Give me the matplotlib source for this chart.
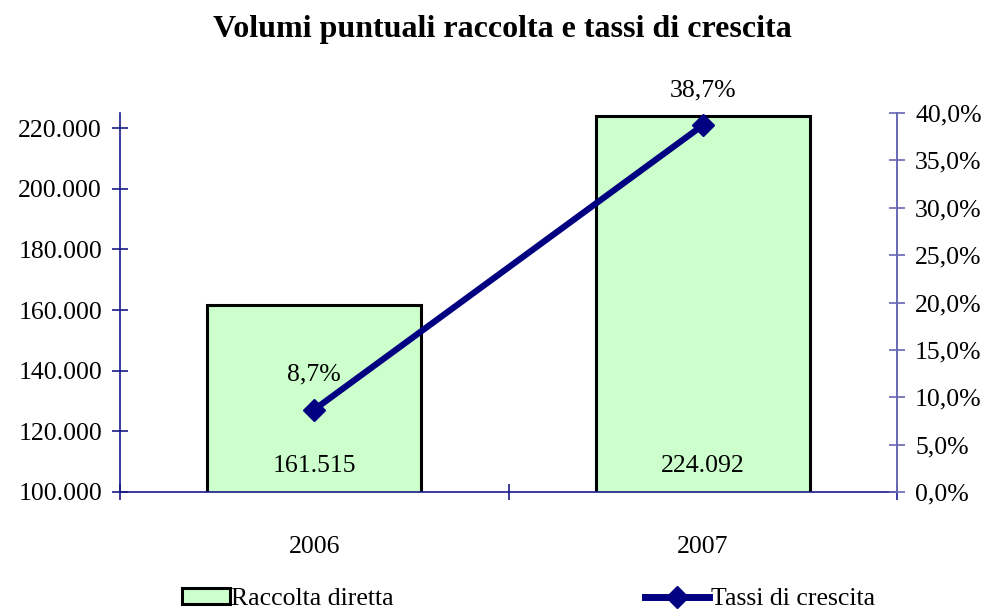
import matplotlib
matplotlib.use("Agg")
import matplotlib.pyplot as plt
from matplotlib.lines import Line2D
from matplotlib.patches import Patch

categories = ["2006", "2007"]
raccolta = [161515, 224092]
tassi = [8.7, 38.7]
left_ticks = [100000, 120000, 140000, 160000, 180000, 200000, 220000]
right_ticks = [0, 5, 10, 15, 20, 25, 30, 35, 40]

plt.rcParams['font.family'] = ['Liberation Serif', 'DejaVu Serif']
W, H = 988, 610
fig = plt.figure(figsize=(W/100, H/100), dpi=100)
ax = fig.add_axes([120/W, 1-492/H, (897-120)/W, (492-113)/H])
axis_col = '#1a1a8a'
right_col = '#6868b4'
FS = 18.5

x = [0, 1]
ax.bar(x, raccolta, width=0.55, color='#CCFFCC', edgecolor='black', linewidth=2.2, zorder=2)
ax.set_ylim(100000, 225000)
ax.set_xlim(-0.5, 1.5)
ax.set_yticks(left_ticks)
ax.set_yticklabels([f"{v:,}".replace(",", ".") for v in left_ticks], fontsize=FS)
ax.set_xticks([-0.5, 0.5, 1.5])
ax.set_xticklabels([])
ax.tick_params(axis='y', direction='inout', length=12, color=axis_col, width=1.2, pad=7)
ax.tick_params(axis='x', direction='inout', length=12, color=axis_col, width=1.2)
for i, c in enumerate(categories):
    ax.text(x[i], -0.145, c, transform=ax.get_xaxis_transform(), ha='center', va='center', fontsize=FS)
for i, v in enumerate(raccolta):
    ax.text(x[i], 108500, f"{v:,}".replace(",", "."), ha='center', va='center', fontsize=FS, zorder=5)
for s in ['top', 'right']:
    ax.spines[s].set_visible(False)
for s in ['left', 'bottom']:
    ax.spines[s].set_color(axis_col)
    ax.spines[s].set_linewidth(1.2)

ax2 = ax.twinx()
ax2.plot(x, tassi, color='#000080', linewidth=4.5, marker='D', markersize=11, zorder=4)
ax2.set_ylim(0, 40)
ax2.set_yticks(right_ticks)
ax2.set_yticklabels([f"{v:.1f}%".replace(".", ",") for v in right_ticks], fontsize=FS)
ax2.tick_params(axis='y', direction='inout', length=12, color=right_col, width=1.2, pad=7)
for s in ['top', 'left', 'bottom']:
    ax2.spines[s].set_visible(False)
ax2.spines['right'].set_color(right_col)
ax2.spines['right'].set_linewidth(1.4)
for i, v in enumerate(tassi):
    ax2.annotate(f"{v:.1f}%".replace(".", ","), (x[i], v), xytext=(0, 25), textcoords='offset points',
                 ha='center', va='center', fontsize=FS)

fig.text(502/W, 1-30/H, "Volumi puntuali raccolta e tassi di crescita", ha='center', va='center',
         fontsize=23, fontweight='bold')

h1 = Patch(facecolor='#CCFFCC', edgecolor='black', linewidth=2.2)
h2 = Line2D([0], [0], color='#000080', linewidth=5, marker='D', markersize=11)
fig.legend([h1], ["Raccolta diretta"], loc='center left', bbox_to_anchor=(182/W, 1-599/H),
           frameon=False, fontsize=FS, handlelength=1.85, handleheight=0.55, handletextpad=0.05,
           borderaxespad=0, borderpad=0)
fig.legend([h2], ["Tassi di crescita"], loc='center left', bbox_to_anchor=(645/W, 1-599/H),
           frameon=False, fontsize=FS, handlelength=2.5, handletextpad=0.05, borderaxespad=0, borderpad=0)

fig.savefig("out.png", dpi=100)
